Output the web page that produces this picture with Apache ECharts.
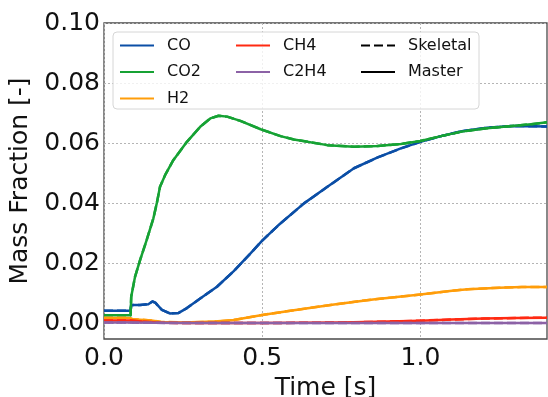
<!DOCTYPE html>
<html>
<head>
<meta charset="utf-8">
<script src="https://cdn.jsdelivr.net/npm/echarts@6/dist/echarts.min.js"></script>
<style>
  html, body { margin: 0; padding: 0; background: #ffffff; }
  #chart { width: 548px; height: 397px; }
</style>
</head>
<body>
<div id="chart"></div>
<script>
// Species mass fractions over time (s)
const timeCO = [0, 0.04, 0.084, 0.086, 0.114, 0.14, 0.153, 0.162, 0.183, 0.209, 0.236, 0.262, 0.304, 0.357, 0.41, 0.463, 0.50, 0.55, 0.632, 0.706, 0.79, 0.865, 0.938, 1.0, 1.065, 1.13, 1.21, 1.29, 1.35, 1.40];
const massCO = [0.0041, 0.0041, 0.0041, 0.0060, 0.0060, 0.0063, 0.0072, 0.0068, 0.0044, 0.0032, 0.0034, 0.0050, 0.0082, 0.0121, 0.0173, 0.0232, 0.0275, 0.0325, 0.0399, 0.0454, 0.0516, 0.0552, 0.0582, 0.0604, 0.0623, 0.0639, 0.0651, 0.0657, 0.0656, 0.0655];

const timeCO2 = [0, 0.04, 0.084, 0.086, 0.098, 0.114, 0.135, 0.156, 0.167, 0.177, 0.193, 0.219, 0.262, 0.304, 0.336, 0.362, 0.389, 0.431, 0.495, 0.558, 0.60, 0.706, 0.79, 0.865, 0.938, 1.0, 1.065, 1.13, 1.21, 1.29, 1.35, 1.40];
const massCO2 = [0.0026, 0.0026, 0.0026, 0.0088, 0.0154, 0.0210, 0.0277, 0.0349, 0.0400, 0.0454, 0.0493, 0.0543, 0.0604, 0.0654, 0.0682, 0.0691, 0.0688, 0.0674, 0.0646, 0.0623, 0.0612, 0.0593, 0.0588, 0.0590, 0.0597, 0.0607, 0.0623, 0.0638, 0.0649, 0.0657, 0.0663, 0.0669];

const timeH2 = [0, 0.04, 0.08, 0.09, 0.15, 0.18, 0.25, 0.35, 0.41, 0.50, 0.60, 0.727, 0.85, 1.0, 1.10, 1.15, 1.25, 1.32, 1.40];
const massH2 = [0.0017, 0.0017, 0.0017, 0.0013, 0.0009, 0.0004, 0.0002, 0.0005, 0.0010, 0.0027, 0.0043, 0.0062, 0.0079, 0.0095, 0.0108, 0.0113, 0.0118, 0.0120, 0.0120];

const timeCH4 = [0, 0.08, 0.12, 0.18, 0.30, 0.50, 0.75, 0.90, 1.0, 1.10, 1.20, 1.30, 1.40];
const massCH4 = [0.0009, 0.0009, 0.0005, 0.0001, 0.0000, 0.0000, 0.0002, 0.0005, 0.0008, 0.0012, 0.0015, 0.0017, 0.0018];

const timeC2H4 = [0, 0.08, 0.15, 0.30, 0.60, 1.0, 1.40];
const massC2H4 = [0.0002, 0.0002, 0.0001, 0.0000, 0.0000, 0.0000, 0.0000];

const xTicks = [0, 0.5, 1.0];
const yTicks = [0, 0.02, 0.04, 0.06, 0.08, 0.10];

const species = [
  { name: 'CO',   color: '#0b4ea6', t: timeCO,   v: massCO },
  { name: 'CO2',  color: '#16a234', t: timeCO2,  v: massCO2 },
  { name: 'H2',   color: '#ff9d0a', t: timeH2,   v: massH2 },
  { name: 'CH4',  color: '#ff2a12', t: timeCH4,  v: massCH4 },
  { name: 'C2H4', color: '#8c62a6', t: timeC2H4, v: massC2H4 }
];

const FONT = 'DejaVu Sans';
const LW = 2.5;
const DASH = [9, 4];

function pairs(t, v) { return t.map((x, i) => [x, v[i]]); }

function curve(name, color, data, dash) {
  return {
    type: 'line', name: name, data: data, symbol: 'none',
    lineStyle: { color: color, width: LW, type: dash, join: 'round', cap: 'butt' },
    itemStyle: { color: color }, z: 2
  };
}

const series = [];
species.forEach(s => {
  const data = pairs(s.t, s.v);
  series.push(curve(s.name, s.color, data, 'solid'));  // Master mechanism
  series.push(curve(s.name, s.color, data, DASH));     // Skeletal mechanism
});
// Line-style keys
series.push(curve('Skeletal', '#000', [], DASH));
series.push(curve('Master', '#000', [], 'solid'));

function legendCol(names, left) {
  return {
    data: names, orient: 'vertical', left: left, top: 37.5, padding: 0,
    itemWidth: 34, itemHeight: 14, itemGap: 10.5,
    selectedMode: false,
    itemStyle: { opacity: 0 },
    textStyle: { fontFamily: FONT, fontSize: 16, color: '#111', padding: [0, 0, 0, 8] }
  };
}

const chart = echarts.init(document.getElementById('chart'), null, { renderer: 'canvas' });
chart.setOption({
  animation: false,
  backgroundColor: '#ffffff',
  grid: {
    left: 104, right: 1, top: 23, bottom: 58,
    outerBoundsMode: 'none', containLabel: false,
    show: true, borderColor: '#4a4a4a', borderWidth: 1.3, backgroundColor: 'transparent'
  },
  legend: [
    legendCol(['CO', 'CO2', 'H2'], 119),
    legendCol(['CH4', 'C2H4'], 235),
    legendCol(['Skeletal', 'Master'], 360)
  ],
  graphic: [{
    type: 'rect', z: 3, silent: true,
    shape: { x: 113, y: 32, width: 366, height: 77, r: 4 },
    style: { fill: 'rgba(255,255,255,0.8)', stroke: '#d6d6d6', lineWidth: 1 }
  }],
  xAxis: {
    type: 'value', min: 0, max: 1.4,
    name: 'Time [s]', nameLocation: 'middle', nameGap: 35,
    nameTextStyle: { fontFamily: FONT, fontSize: 25, color: '#111' },
    axisLine: { show: false },
    axisTick: { show: false, customValues: xTicks },
    axisLabel: {
      customValues: xTicks, margin: 7,
      fontFamily: FONT, fontSize: 25, color: '#111',
      formatter: v => v.toFixed(1)
    },
    splitLine: { show: true, lineStyle: { color: '#b5b5b5', width: 1, type: [2, 2] } }
  },
  yAxis: {
    type: 'value', min: -0.0053, max: 0.1,
    name: 'Mass Fraction [-]', nameLocation: 'middle', nameGap: 68,
    nameTextStyle: { fontFamily: FONT, fontSize: 25, color: '#111' },
    axisLine: { show: false },
    axisTick: { show: false, customValues: yTicks },
    axisLabel: {
      customValues: yTicks, margin: 4,
      fontFamily: FONT, fontSize: 25, color: '#111',
      formatter: v => v.toFixed(2)
    },
    splitLine: { show: true, lineStyle: { color: '#b5b5b5', width: 1, type: [2, 2] } }
  },
  series: series
});
</script>
</body>
</html>
